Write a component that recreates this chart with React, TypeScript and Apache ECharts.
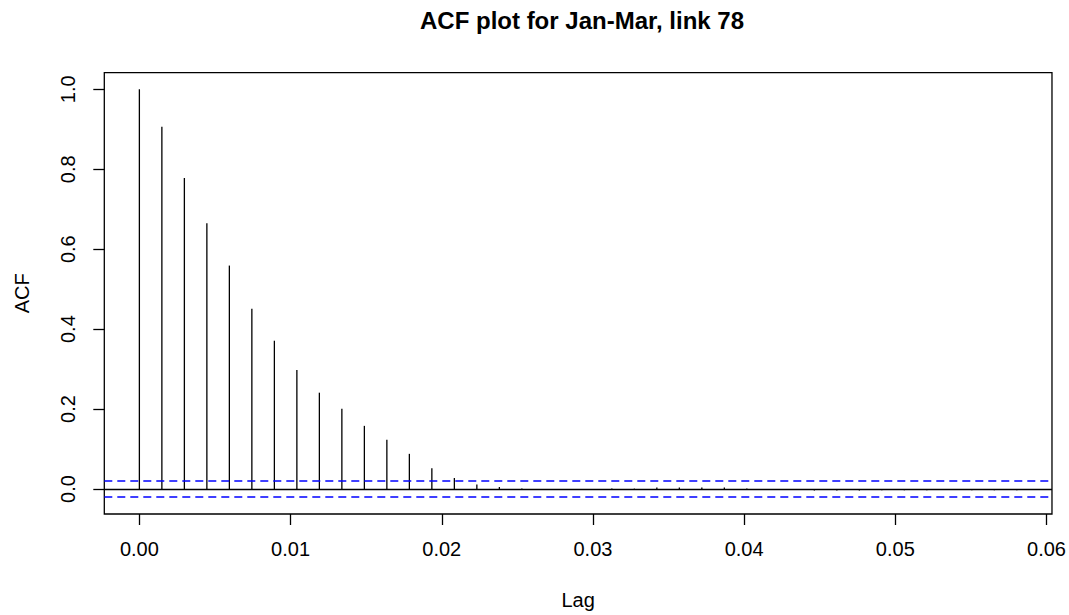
import React, { useEffect, useRef } from "react";
import * as echarts from "echarts";

const lags = [
  0, 0.001488, 0.002976, 0.004464, 0.005952, 0.00744, 0.008929, 0.010417, 0.011905, 0.013393,
  0.014881, 0.016369, 0.017857, 0.019345, 0.020833, 0.022321, 0.02381, 0.025298, 0.026786, 0.028274,
  0.029762, 0.03125, 0.032738, 0.034226, 0.035714, 0.037202, 0.03869, 0.040179, 0.041667, 0.043155,
  0.044643, 0.046131, 0.047619, 0.049107, 0.050595, 0.052083, 0.053571, 0.05506, 0.056548, 0.058036,
];

const acfValues = [
  1.0, 0.906, 0.778, 0.665, 0.559, 0.451, 0.371, 0.298, 0.241, 0.201,
  0.158, 0.123, 0.088, 0.052, 0.0275, 0.011, 0.005, 0.001, 0.0, -0.001,
  0.0, 0.001, 0.001, 0.004, 0.004, 0.004, 0.004, 0.001, 0.0, -0.001,
  -0.004, -0.004, -0.004, -0.003, -0.003, -0.003, -0.001, -0.003, -0.003, -0.003,
];

const ciBound = 0.022;
const xTicks = [0, 0.01, 0.02, 0.03, 0.04, 0.05, 0.06];
const yTicks = [0, 0.2, 0.4, 0.6, 0.8, 1.0];

const FONT = "'Liberation Sans', Arial, sans-serif";

export default function App() {
  const ref = useRef<HTMLDivElement>(null);

  useEffect(() => {
    if (!ref.current) return;
    const chart = echarts.init(ref.current, undefined, { renderer: "svg" });
    const data = lags.map((l, i) => [l, acfValues[i]]);
    chart.setOption({
      animation: false,
      backgroundColor: "#ffffff",
      title: {
        text: "ACF plot for Jan-Mar, link 78",
        left: 577,
        top: 3,
        textAlign: "center",
        textStyle: { fontFamily: FONT, fontSize: 24, fontWeight: "bold", color: "#000" },
      },
      grid: {
        left: 104.3,
        top: 72.7,
        width: 948.2,
        height: 441.6,
        show: true,
        borderColor: "#000",
        borderWidth: 1.3,
        backgroundColor: "transparent",
      },
      xAxis: {
        type: "value",
        min: -0.00232,
        max: 0.06036,
        name: "Lag",
        nameLocation: "middle",
        nameGap: 76,
        nameTextStyle: { fontFamily: FONT, fontSize: 20, color: "#000" },
        axisLine: { show: false, onZero: false },
        splitLine: { show: false },
        axisTick: {
          show: true,
          length: 11,
          customValues: xTicks,
          lineStyle: { color: "#000", width: 1.3 },
        },
        axisLabel: {
          customValues: xTicks,
          margin: 25,
          fontFamily: FONT,
          fontSize: 20,
          color: "#000",
          formatter: (v: number) => v.toFixed(2),
        },
      },
      yAxis: {
        type: "value",
        min: -0.0625,
        max: 1.0415,
        name: "ACF",
        nameLocation: "middle",
        nameRotate: 90,
        nameGap: 72,
        nameTextStyle: { fontFamily: FONT, fontSize: 20, color: "#000" },
        axisLine: { show: false, onZero: false },
        splitLine: { show: false },
        axisTick: {
          show: true,
          length: 11,
          customValues: yTicks,
          lineStyle: { color: "#000", width: 1.3 },
        },
        axisLabel: {
          customValues: yTicks,
          rotate: 90,
          margin: 26,
          fontFamily: FONT,
          fontSize: 20,
          color: "#000",
          formatter: (v: number) => v.toFixed(1),
        },
      },
      series: [
        {
          type: "custom",
          data,
          renderItem: (params: any, api: any) => {
            const x = api.value(0);
            const y = api.value(1);
            const p0 = api.coord([x, 0]);
            const p1 = api.coord([x, y]);
            return {
              type: "line",
              shape: { x1: p0[0], y1: p0[1], x2: p1[0], y2: p1[1] },
              style: { stroke: "#000", lineWidth: 1.3 },
            };
          },
          markLine: {
            silent: true,
            symbol: ["none", "none"],
            label: { show: false },
            data: [
              { yAxis: 0, lineStyle: { color: "#000", type: "solid", width: 1.3, opacity: 1 } },
              { yAxis: ciBound, lineStyle: { color: "#0000ff", type: [8, 5], width: 1.5, opacity: 1 } },
              { yAxis: -ciBound, lineStyle: { color: "#0000ff", type: [8, 5], width: 1.5, opacity: 1 } },
            ],
          },
        },
      ],
    });
    return () => chart.dispose();
  }, []);

  return (
    <div
      ref={ref}
      style={{ position: "absolute", left: 0, top: 0, width: 1069, height: 615 }}
    />
  );
}
